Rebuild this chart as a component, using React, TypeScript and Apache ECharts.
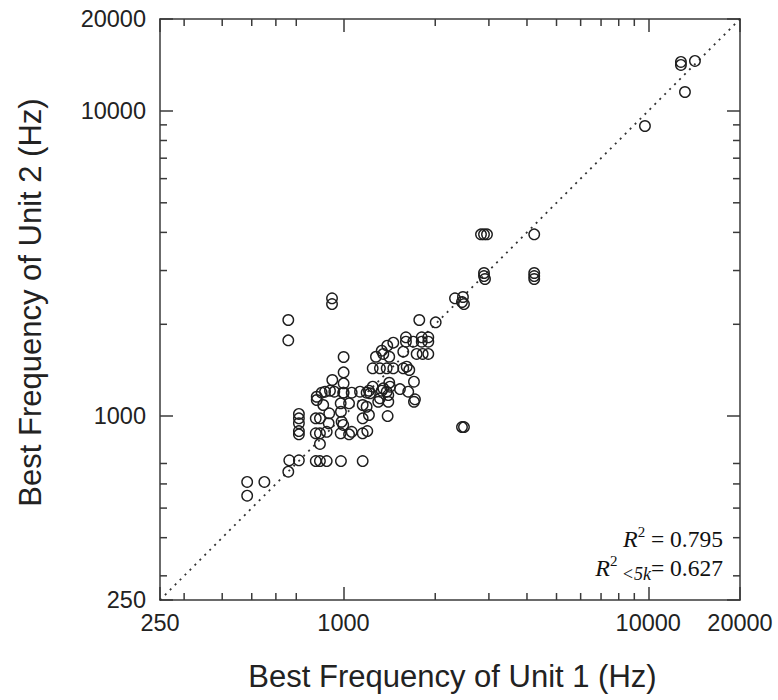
import React, { useEffect, useRef } from "react";
import * as echarts from "echarts";

// Best frequency (Hz) of unit 1 (x) and unit 2 (y) for each pair
const unit1Hz = [
  12800, 12800, 14230, 13195, 9753,
  2826, 2891, 2957, 4225, 2891, 2913, 2891, 4225, 4225, 4225,
  2322, 2466, 2485, 2448, 917, 917, 659, 659, 1773, 2007, 2448, 2485,
  483, 483, 550, 659, 664, 714, 811, 837, 881, 981, 1156, 837,
  714, 714, 714, 714, 714, 811, 837, 811, 837, 881, 894, 898,
  981, 986, 979, 998, 1043, 1064, 1156, 1191, 1156, 1212, 1156, 1197,
  1396, 1403, 1300, 1703, 1043, 979, 858, 817,
  1603, 1806, 1898, 1603, 1694, 1806, 1898, 1457, 1392, 1335, 1351,
  1571, 1738, 1819, 1898, 1278, 1413, 1247, 1317, 1386, 1457, 1571, 1612, 1644,
  1703, 1413, 1421, 1532, 1631, 1716,
  1001, 1001, 919, 1001, 1001, 817, 848, 870, 903, 933, 998, 1064, 1133, 1191,
  1212, 1222, 1247, 1351, 1335, 1386, 1403, 1317,
];
const unit2Hz = [
  14465, 14140, 14575, 11533, 8925,
  3942, 3942, 3942, 3942, 2945, 2814, 2878, 2945, 2878, 2814,
  2433, 2457, 2330, 2366, 2433, 2330, 2066, 1772, 2066, 2030, 921, 921,
  609, 549, 609, 658, 717, 717, 713, 713, 713, 713, 713, 811,
  1017, 984, 948, 894, 872, 984, 984, 879, 879, 889, 948, 1022,
  1034, 959, 879, 936, 872, 889, 1088, 1074, 984, 1009, 879, 894,
  1001, 1115, 1115, 1115, 1102, 1102, 1088, 1130,
  1813, 1813, 1813, 1754, 1754, 1754, 1754, 1741, 1702, 1639, 1599,
  1627, 1599, 1599, 1599, 1566, 1566, 1435, 1435, 1435, 1435, 1435, 1453, 1417,
  1297, 1287, 1249, 1227, 1203, 1136,
  1563, 1392, 1314, 1281, 1194, 1158, 1194, 1203, 1212, 1203, 1194, 1194, 1203, 1194,
  1212, 1188, 1249, 1234, 1212, 1203, 1173, 1144,
];

const axisMinHz = 250;
const axisMaxHz = 20000;
const minorTickHz = [300, 400, 500, 600, 700, 2000, 3000, 4000, 5000, 6000, 7000, 8000, 9000];
const identityLineHz = [250, 20000];
const r2All = "0.795";
const r2Below5k = "0.627";

export default function App() {
  const ref = useRef<HTMLDivElement>(null);

  useEffect(() => {
    const chart = echarts.init(ref.current as HTMLDivElement, null, { renderer: "svg" });
    const axisColor = "#3a3a3a";
    const textColor = "#222";
    const sans = "'Liberation Sans', Arial, Helvetica, sans-serif";
    const serif = "'Liberation Serif', 'Times New Roman', serif";
    const fmt = (v: number) => String(Math.round(v));

    const common = {
      type: "log",
      logBase: 10,
      min: axisMinHz,
      max: axisMaxHz,
      axisLine: { show: true, onZero: false, lineStyle: { color: axisColor, width: 1.5 } },
      axisTick: { show: true, inside: true, length: 13, lineStyle: { color: axisColor, width: 1.5 } },
      minorTick: { show: false },
      splitLine: { show: false },
      minorSplitLine: { show: false },
    };

    const richBase = {
      i: { fontFamily: serif, fontStyle: "italic", fontSize: 24, lineHeight: 30, fill: "#111" },
      n: { fontFamily: serif, fontSize: 23.5, lineHeight: 30, fill: "#111" },
      sup: { fontFamily: serif, fontSize: 15, lineHeight: 22, verticalAlign: "top", fill: "#111" },
      sub: { fontFamily: serif, fontStyle: "italic", fontSize: 18, lineHeight: 8, verticalAlign: "bottom", fill: "#111" },
    };

    const option: any = {
      animation: false,
      backgroundColor: "#ffffff",
      grid: { left: 160, top: 19, width: 580, height: 581, containLabel: false, outerBoundsMode: "none" },
      xAxis: [
        {
          ...common,
          position: "bottom",
          name: "Best Frequency of Unit 1 (Hz)",
          nameLocation: "middle",
          nameGap: 61,
          nameTextStyle: { fontSize: 31, fontFamily: sans, color: textColor, padding: [0, 0, 0, 5] },
          axisLabel: {
            show: true, margin: 11, fontSize: 23.5, fontFamily: sans, color: textColor,
            formatter: fmt, showMinLabel: true, showMaxLabel: true,
          },
        },
        { ...common, position: "top", axisLabel: { show: false } },
      ],
      yAxis: [
        {
          ...common,
          position: "left",
          name: "Best Frequency of Unit 2 (Hz)",
          nameLocation: "middle",
          nameGap: 114,
          nameTextStyle: { fontSize: 31, fontFamily: sans, color: textColor, padding: [0, 0, 0, 14] },
          axisLabel: {
            show: true, margin: 14, fontSize: 23.5, fontFamily: sans, color: textColor,
            formatter: fmt, showMinLabel: true, showMaxLabel: true,
          },
        },
        { ...common, position: "right", axisLabel: { show: false } },
      ],
      series: [
        {
          type: "line",
          data: identityLineHz.map((v) => [v, v]),
          symbol: "none",
          showSymbol: false,
          silent: true,
          z: 1,
          lineStyle: { type: [2, 5], width: 1.8, color: "#333" },
        },
        {
          type: "custom",
          silent: true,
          z: 5,
          clip: false,
          data: minorTickHz.map((v) => [v, v]),
          renderItem: (_params: any, api: any) => {
            const v = api.value(0);
            const b = api.coord([v, axisMinHz]);
            const t = api.coord([v, axisMaxHz]);
            const l = api.coord([axisMinHz, v]);
            const r = api.coord([axisMaxHz, v]);
            const L = 7;
            const style = { stroke: axisColor, lineWidth: 1.5 };
            return {
              type: "group",
              children: [
                { type: "line", shape: { x1: b[0], y1: b[1], x2: b[0], y2: b[1] - L }, style },
                { type: "line", shape: { x1: t[0], y1: t[1], x2: t[0], y2: t[1] + L }, style },
                { type: "line", shape: { x1: l[0], y1: l[1], x2: l[0] + L, y2: l[1] }, style },
                { type: "line", shape: { x1: r[0], y1: r[1], x2: r[0] - L, y2: r[1] }, style },
              ],
            };
          },
        },
        {
          type: "scatter",
          z: 3,
          data: unit1Hz.map((x, i) => [x, unit2Hz[i]]),
          symbol: "circle",
          symbolSize: 10.5,
          itemStyle: { color: "rgba(0,0,0,0)", borderColor: "#1e1e1e", borderWidth: 1.4, opacity: 1 },
        },
      ],
      graphic: [
        {
          type: "text",
          x: 723,
          y: 539,
          style: {
            text: "{i|R}{sup|2}{n| = " + r2All + "}",
            align: "right",
            verticalAlign: "middle",
            rich: richBase,
          },
        },
        {
          type: "text",
          x: 723,
          y: 568,
          style: {
            text: "{i|R}{sup|2}{sub| <5k}{n|= " + r2Below5k + "}",
            align: "right",
            verticalAlign: "middle",
            rich: richBase,
          },
        },
      ],
    };

    chart.setOption(option);
    return () => chart.dispose();
  }, []);

  return <div ref={ref} style={{ position: "absolute", left: 0, top: 0, width: 778, height: 700 }} />;
}
